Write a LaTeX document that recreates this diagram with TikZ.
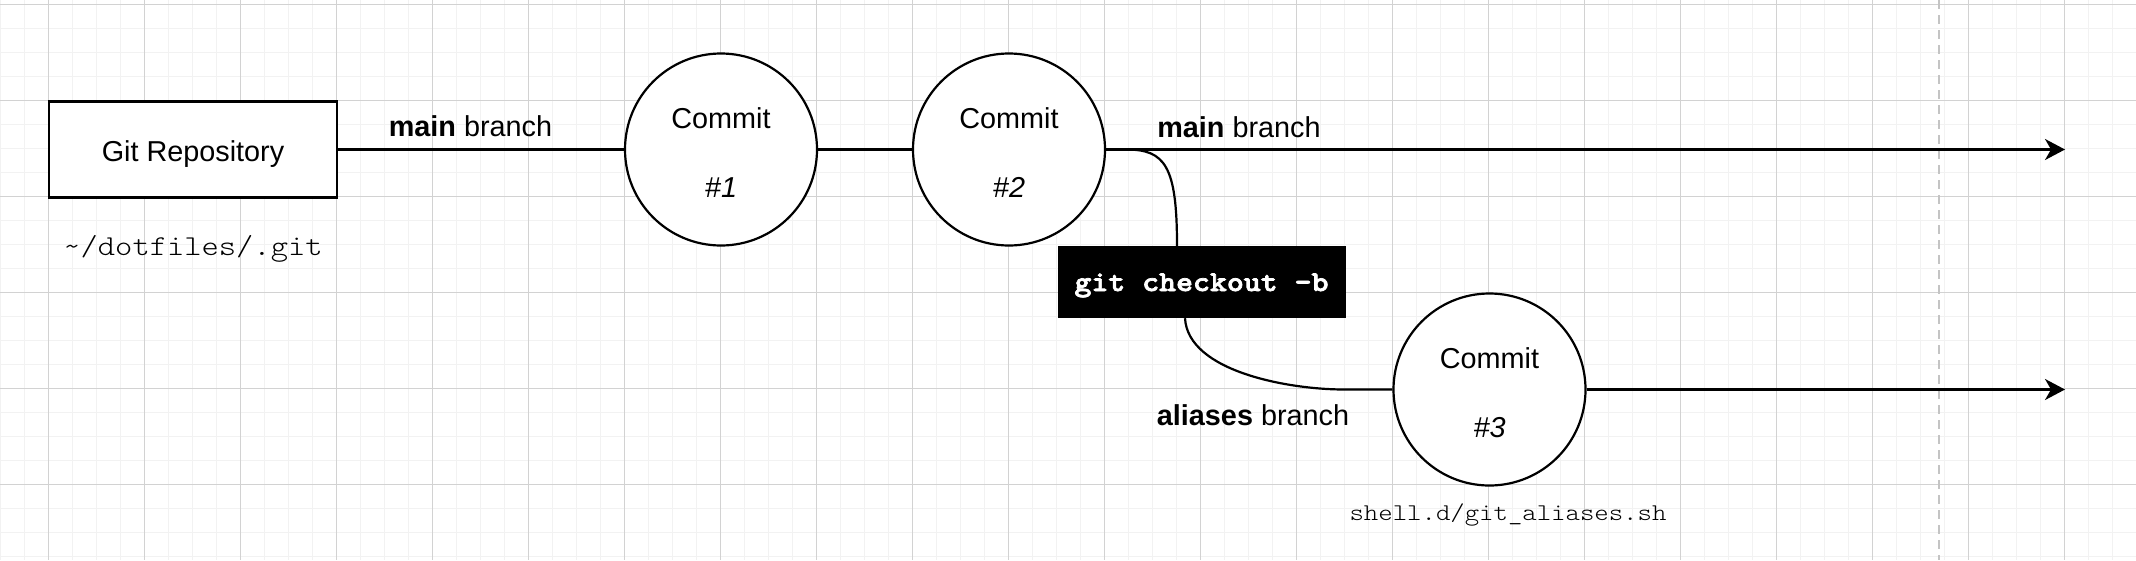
\documentclass[tikz,border=0pt]{standalone}
\usepackage{fontspec}
\setmainfont{Liberation Sans}
\setmonofont{Liberation Mono}
\newfontfamily\thinmono{lmmonolt10-regular.otf}[FakeStretch=1.143]
\newfontfamily\boldmono{lmmonolt10-bold.otf}[FakeStretch=1.12,FakeBold=2.5]
\usetikzlibrary{arrows.meta,calc}
\definecolor{gridminor}{HTML}{F2F2F2}
\definecolor{gridmajor}{HTML}{D2D2D2}
\definecolor{pagebreak}{HTML}{C4C4C4}
\tikzset{
  gridminorline/.style={draw=gridminor, line width=1pt},
  gridmajorline/.style={draw=gridmajor, line width=1pt},
  txt/.style={font=\fontsize{28.8pt}{34.56pt}\selectfont, inner sep=0pt},
  monotxt/.style={font=\thinmono\fontsize{28.8pt}{34.56pt}\selectfont, inner sep=0pt},
  smallmono/.style={font=\thinmono\fontsize{24pt}{28.8pt}\selectfont, inner sep=0pt},
  repobox/.style={draw, line width=2.2pt, fill=white, minimum width=288pt, minimum height=96pt, inner sep=0pt, text height=24pt, text depth=0pt, font=\fontsize{28.8pt}{34.56pt}\selectfont},
  commit/.style={circle, draw, line width=2.2pt, fill=white, minimum size=192pt, inner sep=0pt, align=center, font=\fontsize{28.8pt}{34.56pt}\selectfont},
  cmdbox/.style={fill=black, text=white, minimum width=288pt, minimum height=72pt, inner sep=0pt, text height=18pt, text depth=0pt, font=\boldmono\fontsize{28.8pt}{34.56pt}\selectfont},
  edge/.style={draw, line width=2.2pt},
  arrowedge/.style={edge, -{Stealth[length=20pt,width=21pt,inset=6pt]}},
  pageline/.style={draw=pagebreak, line width=2pt, dash pattern=on 9pt off 6pt}
}
\newcommand{\committext}[1]{\rule{0pt}{27pt}Commit\\[34.56pt]\textit{\##1}}
\begin{document}
\begin{tikzpicture}[x=1pt,y=-1pt]
  \useasboundingbox (0,0) rectangle (2136,560);
  \fill[white] (0,0) rectangle (2136,560);
  % grid
  \foreach \i in {0,...,88} \draw[gridminorline] ({0.7+24*\i},0) -- ({0.7+24*\i},560);
  \foreach \j in {0,...,23} \draw[gridminorline] (0,{4.3+24*\j}) -- (2136,{4.3+24*\j});
  \foreach \i in {0,...,21} \draw[gridmajorline] ({48.7+96*\i},0) -- ({48.7+96*\i},560);
  \foreach \j in {0,...,5} \draw[gridmajorline] (0,{4.3+96*\j}) -- (2136,{4.3+96*\j});
  % page break line
  \draw[pageline] (1939.3,0) -- (1939.3,560);

  % nodes
  \node[repobox] (repo) at (193,149.5) {Git Repository};
  \node[commit] (c1) at (721,149.5) {\committext{1}};
  \node[commit] (c2) at (1009,149.5) {\committext{2}};
  \node[commit] (c3) at (1489.5,389.5) {\committext{3}};
  \node[cmdbox] (gcb) at (1201.5,282) {git checkout -b};
  \coordinate (tip1) at (2065,149.5);
  \coordinate (tip2) at (2065,389.5);

  % labels
  \node[txt, anchor=base] (lblmain1) at (470.5,136.7) {\textbf{main} branch};
  \node[txt, anchor=base] (lblmain2) at (1239,137) {\textbf{main} branch};
  \node[txt, anchor=base] (lblalias) at (1253,425) {\textbf{aliases} branch};
  \node[monotxt, anchor=base] (repopath) at (193,255) {\textasciitilde/dotfiles/.git};
  \node[smallmono, anchor=base] (aliaspath) at (1508,520) {shell.d/git\_aliases.sh};

  % connectors
  \draw[edge] (repo) -- (c1);
  \draw[edge] (c1) -- (c2);
  \draw[arrowedge] (c2.east) -- (tip1);
  \draw[arrowedge] (c3.east) -- (tip2);
  \draw[edge] (c2.east) -- ++(20,0) .. controls (1165,149.5) and ($(gcb.north)+(-24.5,-80)$) .. ($(gcb.north)+(-24.5,0)$);
  \draw[edge] ($(gcb.south)+(-16.5,0)$) .. controls (1188,372) and (1290,389.5) .. (1344,389.5) -- (c3.west);
\end{tikzpicture}
\end{document}
